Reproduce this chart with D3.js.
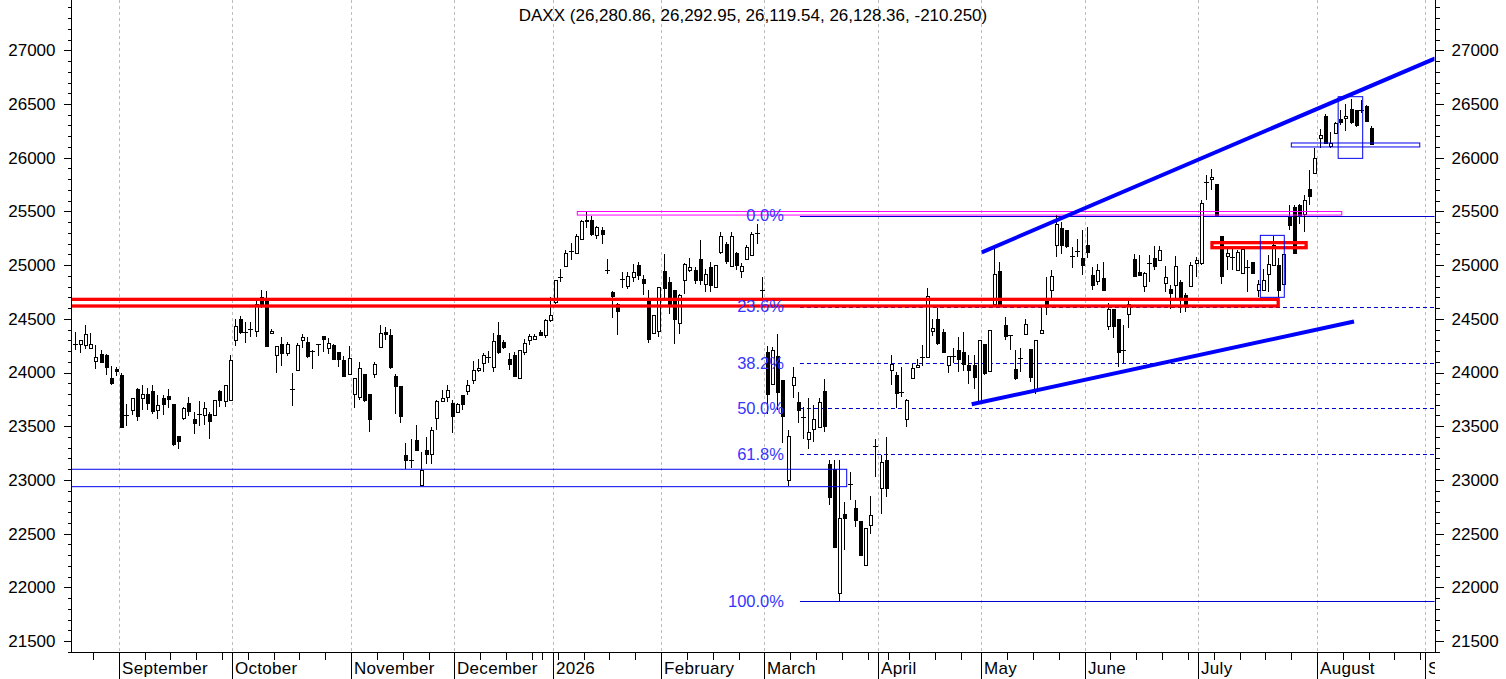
<!DOCTYPE html>
<html>
<head>
<meta charset="utf-8">
<title>DAXX</title>
<script src="https://cdn.jsdelivr.net/npm/d3@7"></script>
<style>
  body { margin: 0; background: #fff; }
  text { font-family: "Liberation Sans", Arial, sans-serif; }
</style>
</head>
<body>
<script>
const width = 1506, height = 679;
const symbol = "DAXX";

// trading calendar: weekdays from the first bar, minus exchange holidays
const firstDay = "2025-08-19";
const holidays = ["2025-12-24", "2025-12-25", "2025-12-26", "2025-12-31",
                  "2026-01-01", "2026-04-03", "2026-04-06", "2026-05-01"];

// daily bars [open, high, low, close], one list per month
const aug25 = [[24280,24377,24207,24270],[24270,24306,24182,24300],[24259,24446,24216,24362],[24232,24371,24222,24269],
  [24110,24253,24030,24148],[24169,24207,24090,24098],[24160,24175,23977,24051],[23946,24058,23881,23902],[24030,24052,23965,24014]];
const sep25 = [[23974,23996,23490,23493],[23600,23704,23499,23605],[23654,23766,23601,23766],[23843,23859,23549,23595],
  [23766,23881,23654,23803],[23803,23859,23648,23716],[23825,23881,23617,23642],[23654,23788,23570,23701],
  [23760,23788,23608,23707],[23778,23850,23670,23754],[23710,23710,23316,23338],[23406,23406,23288,23366],
  [23580,23679,23561,23673],[23719,23772,23595,23642],[23564,23632,23431,23530],[23614,23732,23499,23614],
  [23608,23726,23508,23673],[23617,23632,23384,23549],[23608,23747,23601,23741],[23825,23840,23679,23741],
  [23732,23887,23679,23887],[23747,24160,23747,24114]];
const oct25 = [[24300,24501,24247,24430],[24501,24523,24362,24377],[24371,24470,24275,24374],[24400,24470,24330,24405],
  [24386,24680,24330,24640],[24700,24770,24600,24626],[24690,24760,24240,24247],[24371,24408,24360,24386],
  [24166,24244,23995,24244],[24269,24331,24061,24185],[24185,24285,24150,24269],[23840,23995,23685,23842],
  [24027,24275,24020,24253],[24306,24360,24230,24331],[24284,24331,24138,24154],[24213,24213,24030,24200],
  [24260,24265,24154,24262],[24337,24337,24191,24312],[24228,24325,24176,24278],[24253,24269,24120,24129],
  [24191,24191,24052,24129],[24114,24154,23965,23965],[23989,24244,23974,24138]];
const nov25 = [[23803,23952,23670,23952],[23772,24098,23741,24045],[23989,23989,23726,23747],[23803,23803,23446,23570],
  [23989,24098,23949,24083],[24238,24440,24228,24371],[24380,24420,24300,24360],[24353,24408,24030,24052],
  [23971,23989,23617,23875],[23878,23878,23533,23595],[23229,23347,23105,23183],[23183,23378,23111,23186],
  [23375,23508,23275,23282],[22956,23260,22946,23089],[23275,23400,23151,23238],[23244,23493,23151,23462],
  [23580,23747,23462,23732],[23732,23834,23726,23763],[23772,23887,23726,23834],[23719,23741,23437,23595]];
const dec25 = [[23632,23716,23630,23710],[23788,23788,23648,23710],[23828,23927,23788,23887],[23934,24104,23896,24027],
  [24020,24129,24005,24042],[24092,24185,24005,24166],[24150,24200,24090,24140],[24052,24368,24005,24294],
  [24353,24471,24176,24191],[24287,24300,24220,24238],[24123,24185,24020,24083],[24160,24191,23958,23965],
  [23949,24210,23945,24207],[24191,24315,24160,24278],[24300,24362,24253,24337],[24310,24362,24300,24337],
  [24374,24392,24346,24353],[24353,24501,24325,24492],[24492,24700,24470,24532]];
const jan26 = [[24657,24865,24641,24865],[24888,24967,24843,24892],[24992,25138,24992,25116],[25130,25206,25051,25134],
  [25116,25293,25107,25268],[25246,25423,25237,25408],[25408,25494,25349,25423],[25417,25454,25268,25293],
  [25277,25361,25246,25355],[25324,25355,25200,25293],[24955,25060,24914,24950],[24747,24756,24511,24716],
  [24641,24650,24346,24570],[24870,24936,24790,24873],[24809,24936,24781,24902],[24889,25014,24843,24936],
  [25004,25029,24858,24905],[24874,24905,24719,24834],[24672,24765,24275,24315],[24368,24532,24362,24532],
  [24387,24796,24331,24796]];
const feb26 = [[24945,25107,24672,24790],[24843,24889,24548,24625],[24765,24765,24269,24502],[24461,24734,24362,24719],
  [24865,25020,24728,25014],[24958,25069,24936,24983],[24952,24983,24828,24865],[25060,25231,24812,24865],
  [24827,24967,24750,24920],[24983,25029,24750,24812],[24796,25000,24790,24998],[25122,25308,25107,25268],
  [25200,25215,25014,25038],[24992,25308,24983,25268],[25116,25122,24952,24998],[24945,25020,24883,24989],
  [25054,25184,25045,25169],[25091,25308,25091,25293],[25292,25386,25200,25295],[24780,24889,24672,24772]];
const mar26 = [[24191,24244,23617,23803],[23896,24238,23890,24207],[24151,24362,23648,23819],[23933,23933,23344,23592],
  [22996,23468,22940,23406],[23887,24052,23766,23958],[23722,23819,23530,23648],[23585,23679,23384,23588],
  [23384,23766,23291,23446],[23477,23694,23353,23564],[23493,23766,23490,23725],[23825,23943,23446,23502],
  [23151,23182,22763,22841],[23105,23182,22375,22375],[21947,23182,21869,22648],[22679,22794,22344,22645],
  [22963,23074,22810,22966],[22741,22810,22561,22623],[22614,22614,22298,22298],[22211,22555,22205,22555],
  [22577,22847,22499,22676],[23312,23384,23030,23315]];
const apr26 = [[22925,23229,22686,23167],[23182,23400,22841,22925],[24020,24160,23881,24083],[23974,24005,23673,23812],
  [23816,24052,23772,23820],[23570,23757,23493,23741],[23949,24082,23942,24042],[24051,24129,24040,24073],
  [24142,24253,24061,24146],[24144,24787,24144,24709],[24387,24495,24340,24418],[24501,24601,24253,24275],
  [24377,24408,24191,24191],[24073,24151,23995,24151],[24160,24230,24090,24150],[24213,24331,24005,24123],
  [24191,24377,24011,24082],[24067,24160,23896,24020],[24067,24160,23850,23958],[23719,24300,23719,24300]];
const may26 = [[24262,24262,23980,23998],[24014,24399,24014,24399],[24641,25153,24641,24920],[24942,25029,24641,24641],
  [24439,24517,24300,24340],[24340,24352,24207,24352],[24036,24207,23927,23952],[24128,24231,24005,24131],
  [24362,24501,24362,24455],[24222,24222,23912,23958],[23834,24306,23800,24306],[24368,24616,24368,24399],
  [24663,24890,24532,24625],[24771,24958,24688,24895],[25184,25463,25076,25386],[25346,25402,25107,25190],
  [25324,25324,25160,25178],[25084,25169,24976,25087],[25116,25246,25076,25128],[25066,25324,24911,25004]];
const jun26 = [[25190,25355,25066,25122],[24905,24983,24765,24812],[24852,25014,24812,24951],[24880,25029,24765,24765],
  [24433,24650,24400,24594],[24594,24594,24320,24433],[24501,24501,24051,24191],[24205,24439,24082,24209],
  [24548,24687,24417,24641],[25060,25100,24889,24899],[24936,25097,24905,24911],[24806,24936,24750,24930],
  [25014,25091,24843,25020],[25066,25175,24951,24992],[25045,25175,25045,25144],[24837,24989,24750,24889],
  [24781,24812,24595,24744],[24812,25085,24678,24992],[24843,24865,24554,24694],[24719,24740,24563,24626],
  [24806,25029,24796,24998],[25023,25076,24889,25045]];
const jul26 = [[25023,25603,25004,25582],[25772,25836,25603,25776],[25805,25898,25703,25820],[25758,25758,25464,25464],
  [25271,25271,24827,24899],[25085,25153,24951,25113],[25074,25153,24951,25078],[24951,25144,24951,25122],
  [24930,25175,24930,25153],[24980,25045,24750,24984],[25029,25029,24930,24930],[24765,24858,24703,24827],
  [24771,24967,24765,24858],[24920,25091,24750,25007],[24998,25268,24998,25184],[24998,25069,24703,24771],
  [24827,25107,24827,25107],[25448,25557,25324,25371],[25541,25557,25100,25113],[25557,25572,25386,25464],
  [25479,25650,25308,25609],[25712,25883,25557,25643],[25861,26093,25861,26000]];
const aug26 = [[26183,26270,26093,26208],[26385,26404,26137,26137],[26109,26239,26093,26140],[26230,26332,26230,26323],
  [26357,26441,26301,26333],[26370,26503,26249,26391],[26450,26550,26317,26332],[26441,26441,26286,26301],
  [26446,26534,26416,26448],[26478,26494,26338.61,26338.61],[26280.86,26292.95,26119.54,26128.36]];

const candles = [].concat(aug25, sep25, oct25, nov25, dec25, jan26, feb26, mar26, apr26, may26, jun26, jul26, aug26);

// price axis
const majorTicks = d3.range(21500, 27001, 500);
const minorTicks = d3.range(21400, 27401, 100);

// fibonacci retracement, anchored at bar index fibFrom
const fibHigh = 25460, fibLow = 21872, fibFrom = 140.4;
const fibLevels = [0, 0.236, 0.382, 0.5, 0.618, 1];
const fibLabels = ["0.0%", "23.6%", "38.2%", "50.0%", "61.8%", "100.0%"];

// drawn objects in (bar index, price)
const trendLines = [
  {x1: 175.6, p1: 25119, x2: 263.4, p2: 26925},
  {x1: 173.65, p1: 23704, x2: 247.67, p2: 24475}
];
const boxes = [
  {x1: -1,     x2: 232.99, p1: 24681, p2: 24619, color: "#ff0000", w: 3.3},
  {x1: 220.17, x2: 238.4,  p1: 25209, p2: 25162, color: "#ff0000", w: 3.3},
  {x1: -1,     x2: 149.45, p1: 23099, p2: 22937, color: "#0000ee", w: 1},
  {x1: 97.29,  x2: 245.3,  p1: 25499, p2: 25466, color: "#ff00ff", w: 1},
  {x1: 229.53, x2: 234.17, p1: 25277, p2: 24700, color: "#0000ee", w: 1},
  {x1: 244.6,  x2: 249.35, p1: 26568, p2: 25994, color: "#0000ee", w: 1},
  {x1: 235.53, x2: 260.4,  p1: 26137, p2: 26100, color: "#0000ee", w: 1}
];

// ---- layout
const left = 71, right = 1435, bottom = 652;
const step = 5.165;
const x = d3.scaleLinear().domain([0, 262]).range([74.8, 74.8 + 262 * step]);
const y = d3.scaleLinear().domain([21500, 27000]).range([641, 50.3]);

const parse = d3.utcParse("%Y-%m-%d"), fmt = d3.utcFormat("%Y-%m-%d");
const days = [];
for (let d = parse(firstDay); days.length < 268; d = d3.utcDay.offset(d, 1)) {
  const wd = d.getUTCDay();
  if (wd > 0 && wd < 6 && !holidays.includes(fmt(d))) days.push(d);
}
const edge = i => x(i) - step / 2;
const idx = d3.range(1, days.length);
const monthStarts = idx.filter(i => days[i].getUTCMonth() !== days[i - 1].getUTCMonth() && edge(i) < right);
const weekStarts = idx.filter(i => !monthStarts.includes(i) && d3.utcMonday.floor(days[i]) > days[i - 1] && edge(i) < right);
const monthName = d3.utcFormat("%B");

const svg = d3.select("body").append("svg")
    .attr("width", width)
    .attr("height", height)
    .style("display", "block");

const defs = svg.append("defs");
defs.append("clipPath").attr("id", "plot")
  .append("rect").attr("x", left + 0.5).attr("y", 0).attr("width", right - left - 1).attr("height", bottom);
defs.append("clipPath").attr("id", "labels")
  .append("rect").attr("x", 0).attr("y", bottom).attr("width", right).attr("height", height - bottom);

// month grid
svg.append("g")
    .attr("stroke", "#bdbdbd")
    .attr("stroke-dasharray", "3,3")
  .selectAll("line")
  .data(monthStarts)
  .join("line")
    .attr("x1", i => Math.round(edge(i)) + 0.5)
    .attr("x2", i => Math.round(edge(i)) + 0.5)
    .attr("y1", 0)
    .attr("y2", bottom);

const plot = svg.append("g").attr("clip-path", "url(#plot)");

// fibonacci lines
const fibPrice = f => fibHigh - (fibHigh - fibLow) * f;
plot.append("g")
  .selectAll("line")
  .data(fibLevels)
  .join("line")
    .attr("x1", x(fibFrom))
    .attr("x2", right)
    .attr("y1", f => Math.round(y(fibPrice(f))) + 0.5)
    .attr("y2", f => Math.round(y(fibPrice(f))) + 0.5)
    .attr("stroke", "#0000cc")
    .attr("stroke-dasharray", f => (f === 0 || f === 1) ? null : "4,3");

// candles
const bar = plot.append("g")
    .attr("shape-rendering", "crispEdges")
  .selectAll("g")
  .data(candles)
  .join("g");

const cx = i => Math.round(x(i)) + 0.5;
bar.append("line")
    .attr("x1", (d, i) => cx(i))
    .attr("x2", (d, i) => cx(i))
    .attr("y1", d => y(d[1]))
    .attr("y2", d => y(d[2]))
    .attr("stroke", "#000");

bar.each(function(d, i) {
  const [o, h, l, c] = d;
  const top = y(Math.max(o, c)), bot = y(Math.min(o, c));
  const g = d3.select(this);
  if (bot - top < 1.5) {
    g.append("line")
        .attr("x1", cx(i) - 2.5).attr("x2", cx(i) + 2.5)
        .attr("y1", Math.round(y(c)) + 0.5).attr("y2", Math.round(y(c)) + 0.5)
        .attr("stroke", "#000");
  } else {
    g.append("rect")
        .attr("x", cx(i) - 1.5)
        .attr("width", 3)
        .attr("y", Math.round(top) + 0.5)
        .attr("height", Math.max(1, Math.round(bot) - Math.round(top)))
        .attr("fill", c >= o ? "#fff" : "#000")
        .attr("stroke", "#000");
  }
});

// boxes
plot.append("g")
    .attr("fill", "none")
  .selectAll("rect")
  .data(boxes)
  .join("rect")
    .attr("x", d => x(d.x1))
    .attr("width", d => x(d.x2) - x(d.x1))
    .attr("y", d => y(d.p1))
    .attr("height", d => y(d.p2) - y(d.p1))
    .attr("stroke", d => d.color)
    .attr("stroke-width", d => d.w);

// trend lines
plot.append("g")
    .attr("stroke", "#0000ff")
    .attr("stroke-width", 4)
  .selectAll("line")
  .data(trendLines)
  .join("line")
    .attr("x1", d => x(d.x1))
    .attr("y1", d => y(d.p1))
    .attr("x2", d => x(d.x2))
    .attr("y2", d => y(d.p2));

// fibonacci labels
svg.append("g")
    .attr("fill", "#3535ff")
    .attr("font-size", 16.5)
    .attr("text-anchor", "end")
  .selectAll("text")
  .data(fibLevels)
  .join("text")
    .attr("x", x(fibFrom) - 16)
    .attr("y", f => y(fibPrice(f)))
    .attr("dy", "0.35em")
    .text((f, i) => fibLabels[i]);

// frame
svg.append("g")
    .attr("stroke", "#000")
    .attr("shape-rendering", "crispEdges")
  .selectAll("line")
  .data([[left, 0, left, bottom], [right, 0, right, bottom], [left, bottom, right, bottom]])
  .join("line")
    .attr("x1", d => d[0] + 0.5).attr("y1", d => d[1])
    .attr("x2", d => d[2] + 0.5).attr("y2", d => d[3] + 0.5);

// price axes
function priceAxis(axis, offset) {
  const g = svg.append("g").attr("transform", `translate(${offset + 0.5},0)`);
  g.append("g")
      .call(axis(y).tickValues(minorTicks.filter(v => y(v) > 0 && y(v) < bottom)).tickSize(4).tickFormat(""))
      .call(s => s.select(".domain").remove());
  g.append("g")
      .call(axis(y).tickValues(majorTicks).tickSize(8).tickPadding(8).tickFormat(d3.format("d")))
      .call(s => s.select(".domain").remove())
      .call(s => s.selectAll("text")
          .attr("font-family", "'Liberation Sans', Arial, sans-serif")
          .attr("font-size", 17)
          .attr("fill", "#000"));
  g.selectAll("line").attr("shape-rendering", "crispEdges");
}
priceAxis(d3.axisLeft, left);
priceAxis(d3.axisRight, right);

// time axis
const tAxis = svg.append("g")
    .attr("stroke", "#000")
    .attr("shape-rendering", "crispEdges");
tAxis.selectAll(".wk")
  .data(weekStarts)
  .join("line")
    .attr("class", "wk")
    .attr("x1", i => Math.round(edge(i)) + 0.5)
    .attr("x2", i => Math.round(edge(i)) + 0.5)
    .attr("y1", bottom)
    .attr("y2", bottom + 8);
tAxis.selectAll(".mo")
  .data(monthStarts)
  .join("line")
    .attr("class", "mo")
    .attr("x1", i => Math.round(edge(i)) + 0.5)
    .attr("x2", i => Math.round(edge(i)) + 0.5)
    .attr("y1", bottom)
    .attr("y2", height);

svg.append("g")
    .attr("clip-path", "url(#labels)")
    .attr("font-size", 17)
    .attr("letter-spacing", 0.3)
  .selectAll("text")
  .data(monthStarts)
  .join("text")
    .attr("x", i => Math.round(edge(i)) + 3)
    .attr("y", 674)
    .text(i => days[i].getUTCMonth() === 0 ? days[i].getUTCFullYear() : monthName(days[i]));

// title from the last bar (plain hyphen for the change, as on the original)
const last = candles[candles.length - 1], prev = candles[candles.length - 2];
const locale = d3.formatLocale({decimal: ".", thousands: ",", grouping: [3], currency: ["", ""], minus: "-"});
const f2 = locale.format(",.2f"), f3 = locale.format(".3f");
svg.append("text")
    .attr("x", (left + right) / 2)
    .attr("y", 21)
    .attr("text-anchor", "middle")
    .attr("font-size", 17)
    .text(`${symbol} (${last.map(f2).join(", ")}, ${f3(last[3] - prev[3])})`);
</script>
</body>
</html>
